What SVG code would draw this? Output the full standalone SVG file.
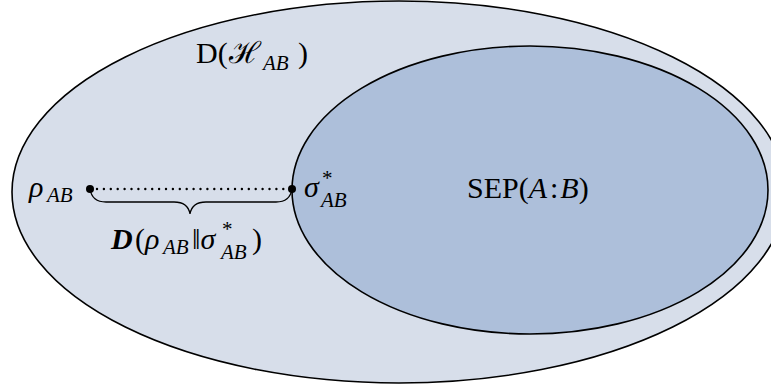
<svg xmlns="http://www.w3.org/2000/svg" width="771" height="387" viewBox="0 0 771 387">
<style>
.t{font-family:"Liberation Serif","DejaVu Serif",serif;font-size:30px;fill:#000}
.i{font-style:italic}
.s{font-size:21px;font-style:italic}
.sup{font-size:21px}
.b{font-weight:bold;font-style:italic}
.dot{fill:#000}
</style>
<g id="outer">
<ellipse cx="399" cy="192" rx="387" ry="191" fill="#d7deea" stroke="#000" stroke-width="1.6"/>
<text class="t" x="196" y="63">D(</text>
<text class="t" x="229" y="63" font-family="DejaVu Serif" font-size="27">ℋ</text>
<text class="t s" x="263" y="70">AB</text>
<text class="t" x="298" y="63">)</text>
</g>
<g id="sep">
<ellipse cx="530" cy="190" rx="238" ry="144" fill="#adbfda" stroke="#000" stroke-width="1.6"/>
<text class="t" x="467" y="198" font-size="31">SEP(<tspan class="i">A</tspan><tspan dx="3">:</tspan><tspan class="i" dx="2">B</tspan>)</text>
</g>
<g id="rho">
<circle class="dot" cx="90" cy="189" r="4"/>
<text class="t i" x="29" y="197">ρ</text>
<text class="t s" x="47" y="202">AB</text>
</g>
<g id="sigma">
<circle class="dot" cx="292" cy="189" r="4"/>
<text class="t i" x="304" y="197">σ</text>
<text class="t sup" x="322" y="185">*</text>
<text class="t s" x="321" y="207">AB</text>
</g>
<g id="connectors">
<line x1="97" y1="189" x2="286" y2="189" stroke="#000" stroke-width="2.4" stroke-linecap="round" stroke-dasharray="0,6.9"/>
<path d="M90,189 Q92,202 106,202 L174,202 Q188,202 190,214 Q192,202 206,202 L276,202 Q290,202 292,189" fill="none" stroke="#000" stroke-width="1.3"/>
</g>
<g id="label">
<text class="t b" x="111" y="249">D</text>
<text class="t" x="135" y="249">(<tspan class="i">ρ</tspan></text>
<text class="t s" x="163" y="254">AB</text>
<text class="t" x="192" y="249">‖<tspan class="i">σ</tspan></text>
<text class="t sup" x="222" y="236">*</text>
<text class="t s" x="221" y="259">AB</text>
<text class="t" x="252" y="249">)</text>
</g>
</svg>
